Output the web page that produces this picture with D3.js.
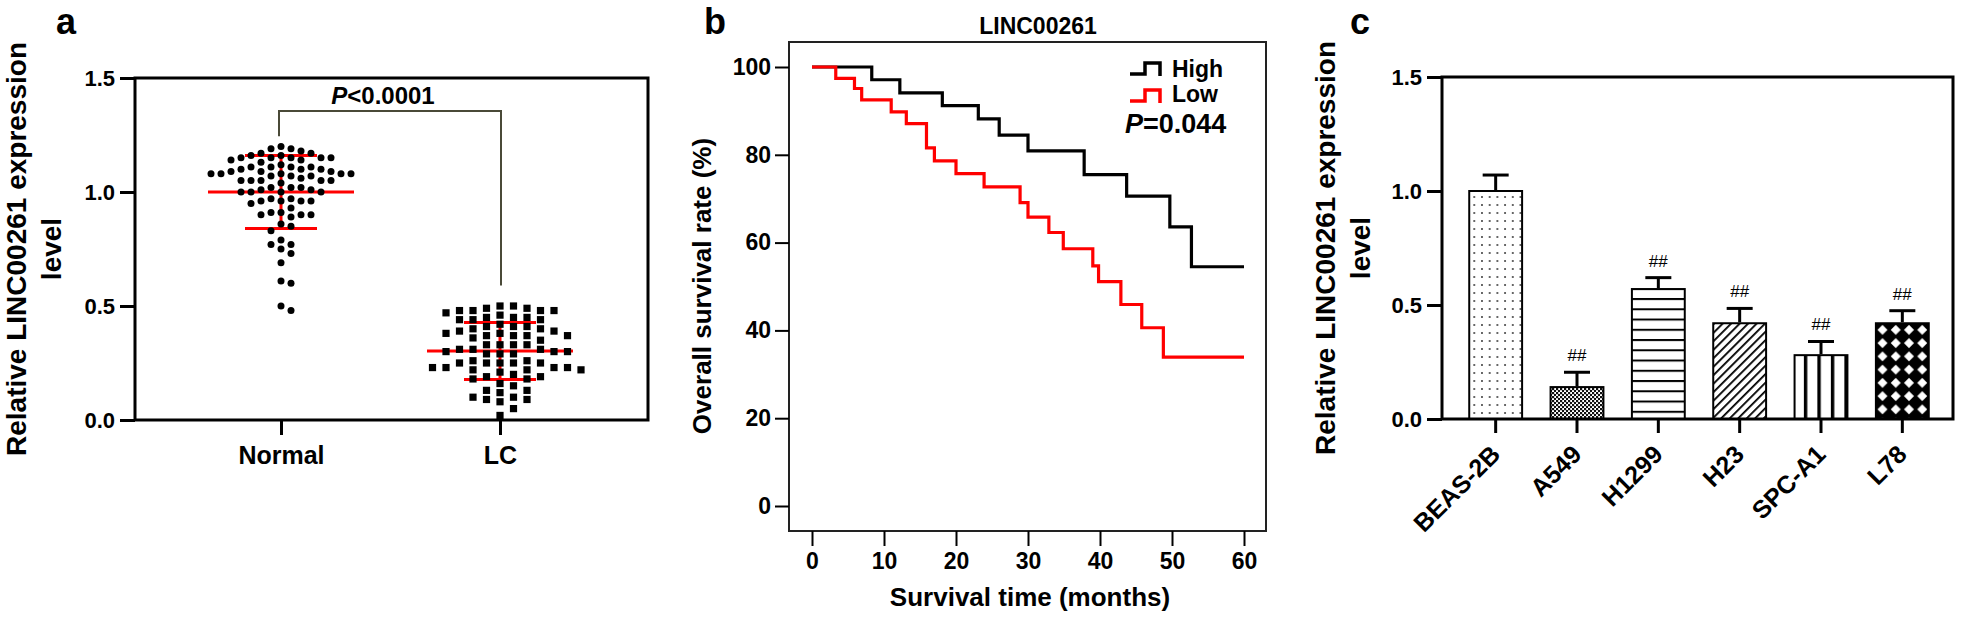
<!DOCTYPE html>
<html><head><meta charset="utf-8">
<script src="https://cdn.jsdelivr.net/npm/d3@7"></script>
<style>
html,body{margin:0;padding:0;background:#fff;}
svg{display:block;font-family:"Liberation Sans",Arial,sans-serif;font-weight:bold;}
</style></head><body>
<svg id="chart" width="1961" height="619"></svg>
<script>
// ---------------- DATA ----------------
// Panel a
const groupsA = ["Normal", "LC"];
const normalValues = [1.19, 1.18, 1.17, 1.19, 1.20,
 1.15, 1.15,
 1.15, 1.15, 1.16, 1.17, 1.16, 1.15, 1.14, 1.14,
 1.12, 1.13, 1.11,
 1.10, 1.08, 1.10, 1.11, 1.11, 1.10, 1.11,
 1.08, 1.07, 1.09, 1.08, 1.09, 1.09, 1.08, 1.08,
 1.05, 1.07, 1.07, 1.05, 1.05, 1.04, 1.05, 1.06, 1.05,
 1.02, 1.01, 1.00, 1.00, 1.02, 1.01, 1.00, 1.00, 1.02,
 0.97, 0.96, 0.96, 0.96, 0.97, 0.96, 0.95,
 0.93,
 0.91, 0.90, 0.90, 0.90, 0.89, 0.91,
 0.86, 0.85,
 0.83,
 0.79,
 0.77, 0.77, 0.75,
 0.73,
 0.69,
 0.60, 0.61,
 0.48, 0.50];
const lcValues = [0.47, 0.25,
 0.45, 0.41, 0.37, 0.33, 0.30, 0.25, 0.22,
 0.50, 0.48, 0.41, 0.37, 0.31, 0.26, 0.22,
 0.49, 0.45, 0.41, 0.37, 0.33, 0.29, 0.23, 0.18, 0.13, 0.09,
 0.48, 0.44, 0.39, 0.35, 0.31, 0.25, 0.20, 0.16, 0.12, 0.08, 0.02,
 0.48, 0.44, 0.40, 0.37, 0.31, 0.26, 0.21, 0.18, 0.13, 0.09,
 0.44, 0.39, 0.33, 0.30, 0.23, 0.19, 0.15, 0.10, 0.05,
 0.49, 0.38, 0.33, 0.29, 0.23, 0.19, 0.10,
 0.48, 0.40, 0.36, 0.29, 0.25, 0.22,
 0.50, 0.46, 0.42, 0.38, 0.30, 0.23,
 0.45, 0.25];
const groupMeans = [1.00, 0.303];
const groupSD = [0.16, 0.125];
const ticksA = [0, 0.5, 1.0, 1.5];
const pTextA = "<0.0001";

// Panel b (Kaplan-Meier)
const highTimes = [0, 8.3, 12.2, 18.1, 23.1, 26.0, 30.0, 37.8, 43.7, 49.7, 52.7, 60];
const highSurv  = [100, 97.1, 94.1, 91.2, 88.2, 84.5, 80.9, 75.5, 70.6, 63.6, 54.5, 54.5];
const lowTimes  = [0, 3.3, 5.9, 6.9, 11.0, 13.1, 15.9, 17.0, 20.0, 23.9, 28.9, 30.0, 32.9, 34.9, 39.0, 39.8, 42.9, 45.8, 48.8, 60];
const lowSurv   = [100, 97.4, 95.1, 92.5, 89.8, 87.1, 81.6, 78.6, 75.7, 72.7, 69.1, 65.8, 62.3, 58.6, 54.7, 51.1, 45.9, 40.6, 33.9, 33.9];
const ticksBx = [0, 10, 20, 30, 40, 50, 60];
const ticksBy = [0, 20, 40, 60, 80, 100];
const seriesNamesB = ["High", "Low"];
const pTextB = "=0.044";

// Panel c
const cellLines = ["BEAS-2B", "A549", "H1299", "H23", "SPC-A1", "L78"];
const cellMeans = [1.00, 0.14, 0.57, 0.42, 0.28, 0.42];
const cellSD    = [0.07, 0.065, 0.05, 0.065, 0.06, 0.055];
const cellMarks = ["", "##", "##", "##", "##", "##"];
const ticksC = [0, 0.5, 1.0, 1.5];

// ---------------- DRAWING ----------------
const svg = d3.select("#chart");
svg.append("rect").attr("width", 1961).attr("height", 619).attr("fill", "#fff");
const defs = svg.append("defs");
const RED = "#ff0000";

function styleAxis(g, fs, sw) {
  g.attr("font-family", null).attr("font-size", null);
  g.select(".domain").remove();
  g.selectAll(".tick line").attr("stroke", "#000").attr("stroke-width", sw);
  g.selectAll(".tick text").attr("fill", "#000").attr("font-size", fs).attr("font-weight", "bold");
}
function rotLabel(x, y, txt, fs) {
  svg.append("text").attr("transform", `translate(${x},${y}) rotate(-90)`)
    .attr("text-anchor", "middle").attr("dy", "0.35em").attr("font-size", fs).text(txt);
}

// panel letters
[["a", 66], ["b", 715], ["c", 1360]].forEach(([t, x]) =>
  svg.append("text").attr("x", x).attr("y", 34).attr("text-anchor", "middle")
    .attr("font-size", 36).text(t));

// ===== Panel a =====
const A = {l: 135, r: 648, t: 78, b: 420};
const yA = d3.scaleLinear().domain([0, 1.5]).range([A.b, A.t]);
const xA = d3.scalePoint().domain(groupsA).range([281, 500]);
const gA = svg.append("g");

const axA = gA.append("g").attr("transform", `translate(${A.l},0)`)
  .call(d3.axisLeft(yA).tickValues(ticksA).tickFormat(d3.format(".1f")).tickSize(15).tickSizeOuter(0).tickPadding(5));
styleAxis(axA, 22, 3);
const axAx = gA.append("g").attr("transform", `translate(0,${A.b})`)
  .call(d3.axisBottom(xA).tickSize(15).tickSizeOuter(0).tickPadding(11));
styleAxis(axAx, 25, 3);
gA.append("path").attr("d", `M${A.l},${A.b}V${A.t}H${A.r}V${A.b}Z`)
  .attr("fill", "none").attr("stroke", "#000").attr("stroke-width", 3);

rotLabel(16, 249, "Relative LINC00261 expression", 28);
rotLabel(51, 249, "level", 28);

// red mean / SD lines (drawn under the points)
groupsA.forEach((g, i) => {
  const cx = xA(g), m = groupMeans[i], s = groupSD[i];
  const red = gA.append("g").attr("stroke", RED).attr("stroke-width", 3);
  red.append("line").attr("x1", cx - 73).attr("x2", cx + 73).attr("y1", yA(m)).attr("y2", yA(m));
  red.append("line").attr("x1", cx - 36).attr("x2", cx + 36).attr("y1", yA(m + s)).attr("y2", yA(m + s));
  red.append("line").attr("x1", cx - 36).attr("x2", cx + 36).attr("y1", yA(m - s)).attr("y2", yA(m - s));
  red.append("line").attr("x1", cx).attr("x2", cx).attr("y1", yA(m + s)).attr("y2", yA(m - s));
});

function swarm(values, cx, step, minSep) {
  const pts = values.map(v => ({v, y: yA(v)})).sort((a, b) => a.y - b.y);
  const cols = {};
  const order = [0];
  for (let i = 1; i <= 30; i++) order.push(i, -i);
  pts.forEach(p => {
    for (const k of order) {
      const c = cols[k] || (cols[k] = []);
      if (c.every(yy => Math.abs(yy - p.y) >= minSep)) { c.push(p.y); p.x = cx + k * step; break; }
    }
  });
  return pts;
}
const normPts = swarm(normalValues, xA("Normal"), 10, 8.5);
gA.append("g").selectAll("circle").data(normPts).join("circle")
  .attr("cx", d => d.x).attr("cy", d => d.y).attr("r", 3.5).attr("fill", "#000");
const lcPts = swarm(lcValues, xA("LC"), 13.5, 8.5);
gA.append("g").selectAll("rect").data(lcPts).join("rect")
  .attr("x", d => d.x - 3.6).attr("y", d => d.y - 3.6).attr("width", 7.2).attr("height", 7.2).attr("fill", "#000");

// significance bracket
gA.append("path")
  .attr("d", `M${xA("Normal") - 2},${yA(1.245)}V${yA(1.355)}H${xA("LC") + 1}V${yA(0.59)}`)
  .attr("fill", "none").attr("stroke", "#4a4a38").attr("stroke-width", 2);
const pa = gA.append("text").attr("x", 383).attr("y", 104).attr("text-anchor", "middle").attr("font-size", 24);
pa.append("tspan").attr("font-style", "italic").text("P");
pa.append("tspan").text(pTextA);

// ===== Panel b =====
const B = {l: 789, r: 1266, t: 42, b: 531};
const xB = d3.scaleLinear().domain([0, 60]).range([812, 1244]);
const yB = d3.scaleLinear().domain([0, 100]).range([506, 67]);
const gB = svg.append("g");
gB.append("rect").attr("x", B.l).attr("y", B.t).attr("width", B.r - B.l).attr("height", B.b - B.t)
  .attr("fill", "none").attr("stroke", "#222").attr("stroke-width", 2);
const axBy = gB.append("g").attr("transform", `translate(${B.l},0)`)
  .call(d3.axisLeft(yB).tickValues(ticksBy).tickSize(14).tickSizeOuter(0).tickPadding(4));
styleAxis(axBy, 23, 2);
const axBx = gB.append("g").attr("transform", `translate(0,${B.b})`)
  .call(d3.axisBottom(xB).tickValues(ticksBx).tickSize(15).tickSizeOuter(0).tickPadding(7));
styleAxis(axBx, 23, 2);

const km = d3.line().x(d => xB(d[0])).y(d => yB(d[1])).curve(d3.curveStepAfter);
gB.append("path").attr("d", km(d3.zip(highTimes, highSurv)))
  .attr("fill", "none").attr("stroke", "#000").attr("stroke-width", 3.2);
gB.append("path").attr("d", km(d3.zip(lowTimes, lowSurv)))
  .attr("fill", "none").attr("stroke", RED).attr("stroke-width", 3.2);

gB.append("text").attr("x", 1038).attr("y", 34).attr("text-anchor", "middle").attr("font-size", 23).text("LINC00261");
gB.append("text").attr("x", 1030).attr("y", 606).attr("text-anchor", "middle").attr("font-size", 26).text("Survival time (months)");
rotLabel(702, 286, "Overall survival rate (%)", 26);

// legend
const legColors = ["#000", RED];
seriesNamesB.forEach((n, i) => {
  const y0 = 74 + i * 27;
  gB.append("path").attr("d", `M1130,${y0}H1145V${y0 - 11}H1160V${y0 + 2}`)
    .attr("fill", "none").attr("stroke", legColors[i]).attr("stroke-width", 3.5);
  gB.append("text").attr("x", 1172).attr("y", 77 + i * 25).attr("font-size", 23).text(n);
});
const pb = gB.append("text").attr("x", 1125).attr("y", 133).attr("font-size", 27);
pb.append("tspan").attr("font-style", "italic").text("P");
pb.append("tspan").text(pTextB);

// ===== Panel c =====
const C = {l: 1442, r: 1953, t: 77, b: 419};
const yC = d3.scaleLinear().domain([0, 1.5]).range([C.b, C.t]);
const xC = d3.scaleBand().domain(cellLines).range([1455, 1943]).paddingInner(0.35).paddingOuter(0.175);
const bw = xC.bandwidth();

// fill patterns
function pat(id, w, h, x0, y0, extra) {
  const p = defs.append("pattern").attr("id", id).attr("patternUnits", "userSpaceOnUse")
    .attr("width", w).attr("height", h).attr("x", x0).attr("y", y0);
  if (extra) p.attr("patternTransform", extra);
  return p;
}
let p;
p = pat("pDots", 7.7, 8, xC(cellLines[0]) + 1.2, yC(cellMeans[0]) + 2);
p.append("rect").attr("width", 7.7).attr("height", 8).attr("fill", "#fff");
p.append("circle").attr("cx", 3.85).attr("cy", 4).attr("r", 0.95).attr("fill", "#333");
p = pat("pCheck", 4, 4, 0, 0);
p.append("rect").attr("width", 4).attr("height", 4).attr("fill", "#fff");
p.append("rect").attr("width", 2.2).attr("height", 2.2).attr("fill", "#111");
p.append("rect").attr("x", 2).attr("y", 2).attr("width", 2.2).attr("height", 2.2).attr("fill", "#111");
p = pat("pHoriz", 10, 10.25, 0, yC(cellMeans[2]) + 9);
p.append("rect").attr("width", 10).attr("height", 10.25).attr("fill", "#fff");
p.append("rect").attr("width", 10).attr("height", 2).attr("fill", "#000");
p = pat("pDiag", 6, 6, 0, 0, "rotate(45)");
p.append("rect").attr("width", 6).attr("height", 6).attr("fill", "#fff");
p.append("rect").attr("width", 1.8).attr("height", 6).attr("fill", "#000");
p = pat("pVert", 13.5, 10, xC(cellLines[4]) + 9.3, 0);
p.append("rect").attr("width", 13.5).attr("height", 10).attr("fill", "#fff");
p.append("rect").attr("width", 3.4).attr("height", 10).attr("fill", "#000");
p = pat("pDiamond", 13.25, 13.25, xC(cellLines[5]), yC(cellMeans[5]));
p.append("rect").attr("width", 13.25).attr("height", 13.25).attr("fill", "#000");
p.append("path").attr("d", "M6.6,1.6L11.6,6.6L6.6,11.6L1.6,6.6Z").attr("fill", "#fff");
const fills = ["url(#pDots)", "url(#pCheck)", "url(#pHoriz)", "url(#pDiag)", "url(#pVert)", "url(#pDiamond)"];

const gC = svg.append("g");
const axCy = gC.append("g").attr("transform", `translate(${C.l},0)`)
  .call(d3.axisLeft(yC).tickValues(ticksC).tickFormat(d3.format(".1f")).tickSize(15).tickSizeOuter(0).tickPadding(5));
styleAxis(axCy, 22, 3);
const axCx = gC.append("g").attr("transform", `translate(0,${C.b})`)
  .call(d3.axisBottom(xC).tickSize(14).tickSizeOuter(0));
styleAxis(axCx, 25, 3);
axCx.selectAll(".tick text").attr("x", null).attr("y", null).attr("dy", null)
  .attr("text-anchor", "end").attr("transform", "translate(6,37) rotate(-45)");

gC.selectAll("rect.bar").data(cellLines).join("rect").attr("class", "bar")
  .attr("x", d => xC(d)).attr("y", (d, i) => yC(cellMeans[i]))
  .attr("width", bw).attr("height", (d, i) => yC(0) - yC(cellMeans[i]))
  .attr("fill", (d, i) => fills[i]).attr("stroke", "#000").attr("stroke-width", 2);

const err = gC.append("g").attr("stroke", "#000").attr("stroke-width", 3);
cellLines.forEach((d, i) => {
  const cx = xC(d) + bw / 2, top = yC(cellMeans[i] + cellSD[i]);
  err.append("line").attr("x1", cx).attr("x2", cx).attr("y1", yC(cellMeans[i]) - 1).attr("y2", top);
  err.append("line").attr("x1", cx - 13).attr("x2", cx + 13).attr("y1", top).attr("y2", top);
  gC.append("text").attr("x", cx).attr("y", top - 11).attr("text-anchor", "middle")
    .attr("font-size", 17).attr("font-weight", "normal").text(cellMarks[i]);
});
gC.append("path").attr("d", `M${C.l},${C.b}V${C.t}H${C.r}V${C.b}Z`)
  .attr("fill", "none").attr("stroke", "#000").attr("stroke-width", 3);

rotLabel(1325, 248, "Relative LINC00261 expression", 28);
rotLabel(1360, 248, "level", 28);
</script>
</body></html>
